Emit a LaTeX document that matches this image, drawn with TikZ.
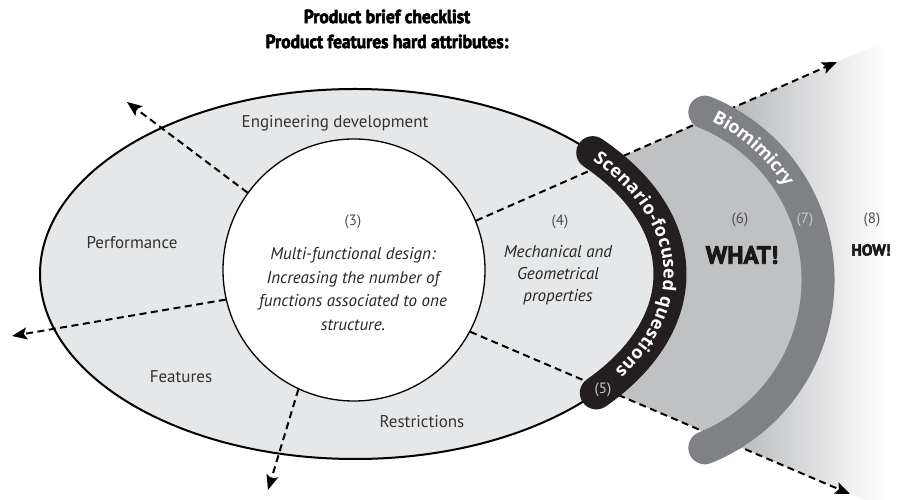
\documentclass[tikz,border=0pt]{standalone}
\usepackage{fontspec}
\usepackage{graphicx}
\setmainfont{PT Sans}
\newfontfamily\bandfont{Open Sans}
\usetikzlibrary{arrows.meta,calc,decorations.text}

\definecolor{ellipsefill}{HTML}{E6E7E8}
\definecolor{whatfill}{HTML}{C0C1C3}
\definecolor{biofill}{HTML}{7F8184}
\definecolor{scenfill}{HTML}{231F20}
\definecolor{howstart}{HTML}{A7A9AC}
\definecolor{numgray}{HTML}{4D4D4F}
\definecolor{lightnum}{HTML}{C9CACC}

% heavy weight for the headings
\newcommand{\heavy}{\bfseries\addfontfeature{FakeBold=3}}

\pgfdeclarelayer{back}
\pgfsetlayers{back,main}

\begin{document}
\begin{tikzpicture}[x=1pt,y=1pt,
  spoke/.style={line width=2pt, dash pattern=on 7pt off 4.5pt,
    -{Stealth[length=15pt,width=12pt,inset=3pt]}},
  lbl/.style={font=\fontsize{17}{19}\selectfont, text=black!80},
  numlbl/.style={font=\fontsize{15}{18}\selectfont, text=numgray},
  itlbl/.style={font=\itshape\fontsize{17}{23.5}\selectfont, text=black!85, align=center},
  bandtext/.style={decorate, decoration={text along path, text color=white,
    raise=-6.3pt, text align={#1}}}
]
\useasboundingbox (0,0) rectangle (899,500);

% centres of the shapes
\coordinate (e) at (355,226);   % outer ellipse
\coordinate (d) at (637,220);   % WHAT! disc and biomimicry band

% free ends of the dashed spokes
\coordinate (ultip) at (127,398);
\coordinate (ltip)  at (12,164);
\coordinate (btip)  at (268,10);
\coordinate (urtip) at (837,438);
\coordinate (lrtip) at (850,6);

% outer ellipse with the hard attributes
\draw[line width=2pt, fill=ellipsefill] (e) ellipse[x radius=315, y radius=185];

% inner circle
\node[circle, draw, line width=1.3pt, fill=white, minimum size=262pt, inner sep=0pt]
  (core) at (354,230) {};

% the fan towards WHAT! and HOW!
\begin{pgfonlayer}{back}
  \begin{scope}
    \clip (core.22.5) -- ($(core.22.5)!1.3!(urtip)$) -- ($(core.-28.7)!1.3!(lrtip)$)
      -- (core.-28.7) -- cycle;
    \shade[left color=howstart, right color=white] (700,-30) rectangle (885,520);
    \fill[whatfill] (d) circle[radius=181];
  \end{scope}
\end{pgfonlayer}

% dashed spokes
\draw[spoke] (core.144)   -- (ultip);
\draw[spoke] (core.193)   -- (ltip);
\draw[spoke] (core.245)   -- (btip);
\draw[spoke] (core.22.5)  -- (urtip);
\draw[spoke] (core.-28.7) -- (lrtip);

% biomimicry band
\draw[biofill, line width=33pt, line cap=round]
  ($(d)+(68:181)$) arc[start angle=68, end angle=-68, radius=181];
\path[bandtext={left indent=1pt}, decoration={text={|\bandfont\bfseries\fontsize{18}{18}\selectfont|Biomimicry}}]
  ($(d)+(65:181)$) arc[start angle=65, end angle=5, radius=181];

% scenario-focused questions band
\draw[scenfill, line width=33pt, line cap=round]
  ($(e)+(41:315 and 185)$) arc[start angle=41, end angle=-40, x radius=315, y radius=185];
\path[bandtext={fit to path}, decoration={text={|\bandfont\bfseries\fontsize{18}{18}\selectfont|Scenario-focused questions}}]
  ($(e)+(40:315 and 185)$) arc[start angle=40, end angle=-33, x radius=315, y radius=185];

% title
\node[font=\fontsize{19}{25}\selectfont\heavy\addfontfeature{FakeStretch=0.92}, align=center]
  (title) at (387,471)
  {Product brief checklist\\Product features hard attributes:};

% attribute labels
\node[lbl] (engdev) at (335,377) {Engineering development};
\node[lbl] (perf)   at (132,257) {Performance};
\node[lbl] (feat)   at (181,123) {Features};
\node[lbl] (restr)  at (422,78)  {Restrictions};

% inner circle text
\node[numlbl] (n3) at (353,278) {(3)};
\node[itlbl] (multi) at (353,211)
  {Multi-functional design:\\Increasing the number of\\functions associated to one\\structure.};

% mechanical properties
\node[numlbl] (n4) at (560,278) {(4)};
\node[itlbl, font=\itshape\fontsize{17}{22}\selectfont] (mech) at (558,225)
  {Mechanical and\\Geometrical\\properties};

% numbered zones on the right
\node[numlbl, text=lightnum] (n5) at (603,110) {(5)};
\node[numlbl] (n6) at (740,280) {(6)};
\node[font=\fontsize{25}{25}\selectfont\heavy, text=black!90] (what) at (742,245) {WHAT!};
\node[numlbl, text=lightnum] (n7) at (805,280) {(7)};
\node[numlbl] (n8) at (872,280) {(8)};
\node[font=\fontsize{16}{16}\selectfont\heavy, text=black!90] (how) at (871,250) {HOW!};
\end{tikzpicture}
\end{document}
